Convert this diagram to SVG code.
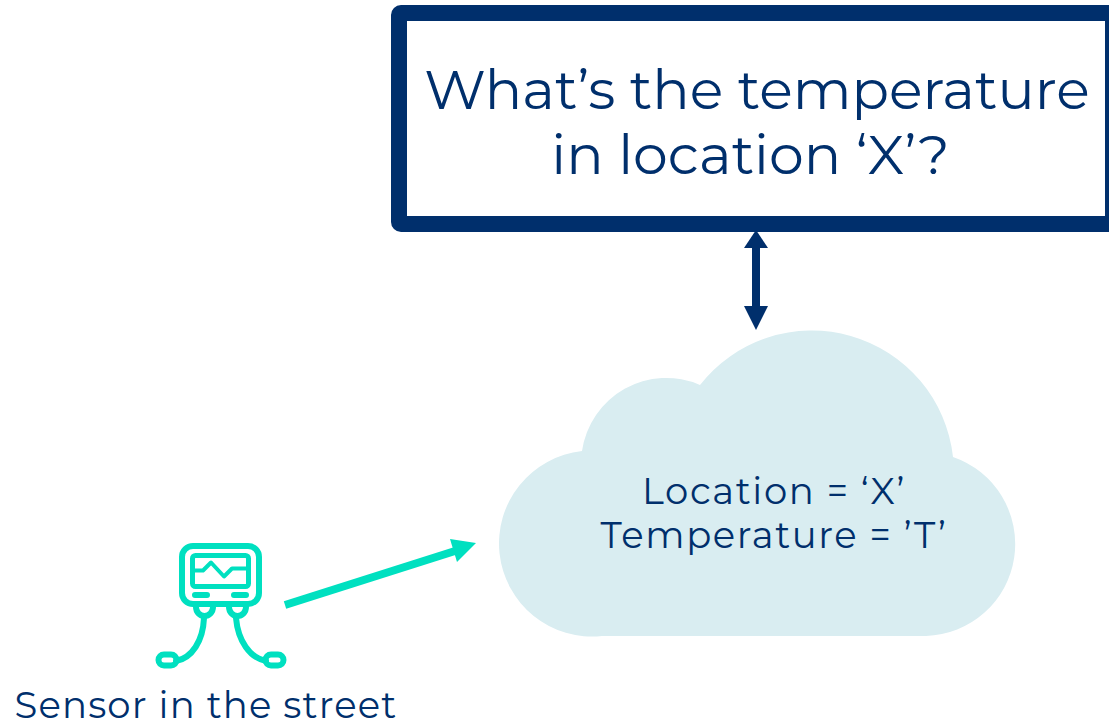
<svg xmlns="http://www.w3.org/2000/svg" width="1109" height="722" viewBox="0 0 1109 722">
<style>
.t{font-family:"Montserrat","Inter","Liberation Sans",sans-serif;fill:#002f6c;text-anchor:middle}
.q{font-size:55.4px}
.l{font-size:37px;letter-spacing:1.6px}
.s{fill:none;stroke:#00e0c0;stroke-width:6;stroke-linecap:round;stroke-linejoin:round}
</style>
<rect width="1109" height="722" fill="#fff"/>
<g id="question"><rect x="399" y="13" width="714" height="211" rx="2" fill="#fff" stroke="#002f6c" stroke-width="16"/>
<text class="t q" x="757" y="109">What’s the temperature</text>
<text class="t q" x="750.5" y="174">in location ‘X’?</text></g>
<g id="cloud"><path d="M602 636A93 93 0 0 1 582 451A85 85 0 0 1 700 385A142 142 0 0 1 953 457A92 92 0 0 1 926 636Z" fill="#d9edf1"/>
<text class="t l" x="774" y="504">Location = ‘X’</text>
<text class="t l" x="774" y="548">Temperature = ’T’</text></g>
<g id="sensor"><rect x="182" y="546" width="77" height="58" rx="11" class="s"/><rect x="192.500" y="555.500" width="56" height="31" rx="3" class="s" style="stroke-width:5"/>
<path class="s" d="M195 570.500h8l8-8 13 14 8-8h15" style="stroke-width:4"/>
<path class="s" d="M195 595h12M234 595h12"/>
<path class="s" d="M196 607a8.500 9 0 0 0 17 0M229 607a8.500 9 0 0 0 17 0"/>
<path class="s" d="M204 618C203 641 192 658 176 661M236 618C238 641 250 658 266 661"/>
<rect x="158.500" y="654.500" width="18" height="11" rx="5.500" class="s"/><rect x="265.500" y="654.500" width="18" height="11" rx="5.500" class="s"/>
<text class="t l" style="letter-spacing:1.15px" x="206" y="718">Sensor in the street</text></g>
<g id="connectors">
<path d="M285 605L455 551" stroke="#00e0c0" stroke-width="8" fill="none"/><path d="M476 543L450 539L457 562Z" fill="#00e0c0"/>
<path d="M756 245V312" stroke="#002f6c" stroke-width="8" fill="none"/><path d="M756 230L768 248H744Z" fill="#002f6c"/><path d="M756 330L744 306H768Z" fill="#002f6c"/>
</g>
</svg>
